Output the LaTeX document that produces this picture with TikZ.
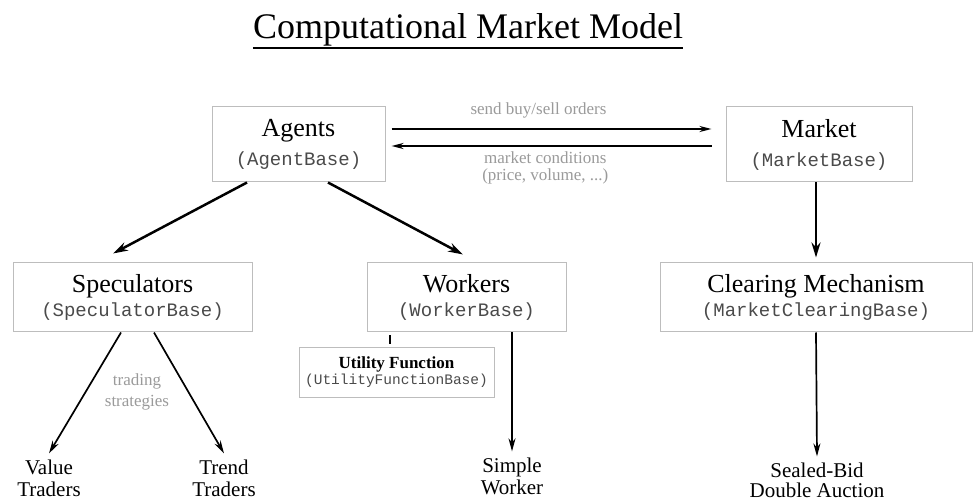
\documentclass[tikz,border=0pt]{standalone}
\usepackage{fontspec}
\setmainfont{Liberation Serif}
\setmonofont{Liberation Mono}
\usetikzlibrary{arrows.meta}

\definecolor{boxgray}{HTML}{BDBDBD}
\definecolor{codegray}{HTML}{4A4A4A}
\definecolor{notegray}{HTML}{9A9A9A}

\newcommand{\boxtitle}[1]{{\fontsize{26}{26}\selectfont #1}}
\newcommand{\classname}[1]{{\ttfamily\color{codegray}(#1)}}

\tikzstyle{module}=[draw=boxgray, line width=1pt, inner sep=0pt, align=center, font=\fontsize{19}{29}\selectfont]
\tikzstyle{submodule}=[module, font=\fontsize{19}{24}\selectfont]
\tikzstyle{leaf}=[align=center, inner sep=6pt, font=\fontsize{21}{22}\selectfont]
\tikzstyle{note}=[align=center, inner sep=0pt, text=notegray, font=\fontsize{17}{17}\selectfont]
\tikzstyle{msg}=[-{Stealth[length=12pt, width=6pt]}, line width=2pt]
\tikzstyle{inherit}=[-{Stealth[length=15pt, width=9pt]}, line width=2.5pt]
\tikzstyle{impl}=[-{Stealth[length=13pt, width=7pt]}, line width=1.7pt]

\begin{document}
\begin{tikzpicture}[x=1pt, y=-1pt]
    \useasboundingbox (0, 0) rectangle (974, 502);
    \node[anchor=base, inner sep=0pt, font=\fontsize{36}{36}\selectfont] (title) at (468, 39) {Computational Market Model};
    \draw[line width=1.8pt] ([yshift=-1pt]title.south west) -- ([yshift=-1pt]title.south east);

    \node[module, minimum width=173, minimum height=75] (agents) at (298.5, 144.5) {\boxtitle{Agents}\\\classname{AgentBase}};
    \node[module, minimum width=186, minimum height=75] (market) at (819, 144.5) {\boxtitle{Market}\\\classname{MarketBase}};
    \node[submodule, minimum width=239, minimum height=69] (spec) at (132.5, 297.5) {\boxtitle{Speculators}\\\classname{SpeculatorBase}};
    \node[submodule, minimum width=199, minimum height=69] (workers) at (466.5, 297.5) {\boxtitle{Workers}\\\classname{WorkerBase}};
    \node[submodule, minimum width=312, minimum height=69] (clearing) at (816, 297.5) {\boxtitle{Clearing Mechanism}\\\classname{MarketClearingBase}};
    \node[module, minimum width=195, minimum height=49, font=\fontsize{14.5}{16}\selectfont] (utility) at (396.5, 372.5) {{\fontsize{17}{17}\selectfont\bfseries Utility Function}\\\classname{UtilityFunctionBase}};

    \node[leaf] (value) at (49, 478) {Value\\Traders};
    \node[leaf] (trend) at (224, 478) {Trend\\Traders};
    \node[leaf] (simple) at (512, 476) {Simple\\Worker};
    \node[leaf, font=\fontsize{21}{20}\selectfont] (auction) at (817, 480) {Sealed-Bid\\Double Auction};
    \node[note, font=\fontsize{17}{21}\selectfont] (strategies) at (137, 392) {trading\\strategies};

    \draw[msg, shorten <=6pt, shorten >=14pt] ([yshift=15.5pt]agents.east) -- ([yshift=15.5pt]market.west)
        node[note, pos=0.45, anchor=base, yshift=14pt] (orders) {send buy/sell orders};
    \draw[msg, shorten <=14pt, shorten >=6pt] ([yshift=-1.5pt]market.west) -- ([yshift=-1.5pt]agents.east)
        node[note, pos=0.53, anchor=north, yshift=-5pt] (conditions) {market conditions\\(price, volume, ...)};

    \draw[inherit] ([xshift=-51.5pt]agents.south) -- ([xshift=-19.5pt, yshift=9pt]spec.north);
    \draw[inherit] ([xshift=29.5pt]agents.south) -- ([xshift=-3.5pt, yshift=8pt]workers.north);
    \draw[inherit, shorten >=5pt] (market.south -| clearing.north) -- (clearing.north);

    \draw[impl] ([xshift=-11.5pt]spec.south) -- (value.north);
    \draw[impl] ([xshift=21.5pt]spec.south) -- (trend.north);
    \draw[impl] (workers.south -| simple.north) -- (simple.north);
    \draw[impl] (clearing.south) -- (auction.north);
    \draw[line width=1.5pt, shorten <=3pt, shorten >=3pt] ([xshift=-76.5pt]workers.south) -- ([xshift=-6.5pt]utility.north);
\end{tikzpicture}
\end{document}
